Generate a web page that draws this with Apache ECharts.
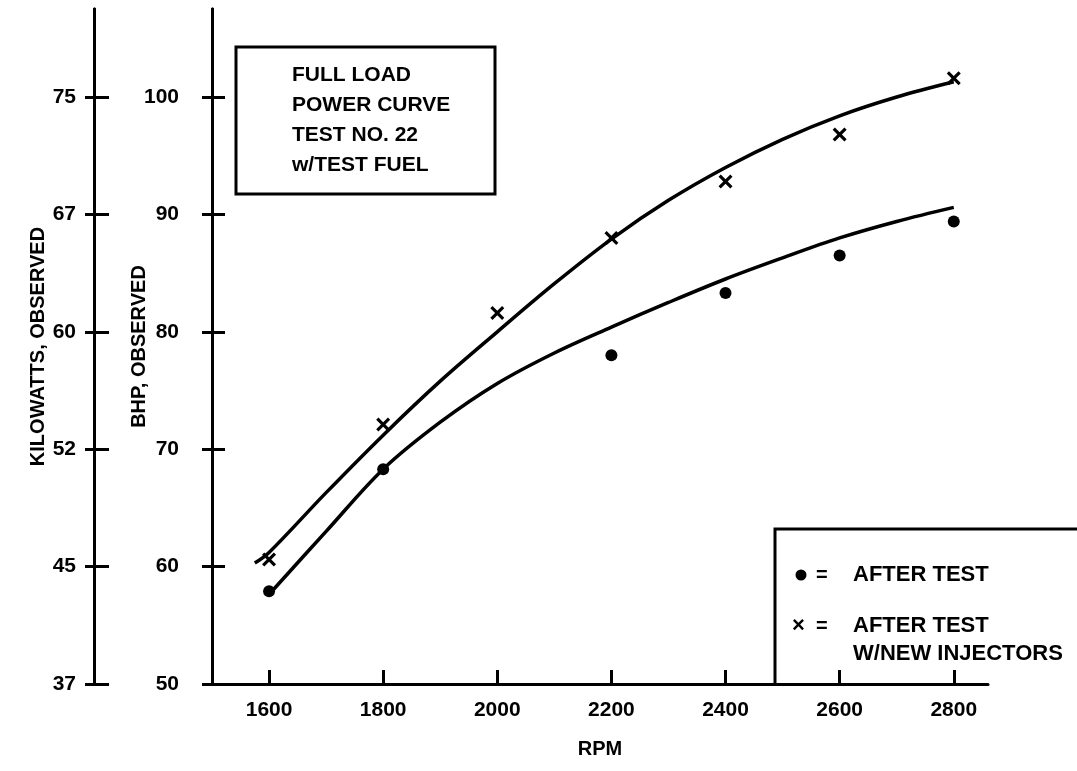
<!DOCTYPE html>
<html>
<head>
<meta charset="utf-8">
<script src="https://cdn.jsdelivr.net/npm/echarts@6/dist/echarts.min.js"></script>
<style>
  html, body { margin: 0; padding: 0; background: #fff; }
  #chart { width: 1077px; height: 771px; }
</style>
</head>
<body>
<div id="chart"></div>
<script>
// ---- data ----
const rpmTicks = [1600, 1800, 2000, 2200, 2400, 2600, 2800];
const bhpTicks = [50, 60, 70, 80, 90, 100];
const kwTicks = ['37', '45', '52', '60', '67', '75'];

// observed points
const dotRpm = [1600, 1800, 2200, 2400, 2600, 2800];
const dotBhp = [57.9, 68.3, 78.0, 83.3, 86.5, 89.4];            // AFTER TEST
const crossRpm = [1600, 1800, 2000, 2200, 2400, 2600, 2800];
const crossBhp = [60.6, 72.1, 81.6, 88.0, 92.8, 96.8, 101.6];   // AFTER TEST W/NEW INJECTORS

// hand-drawn fitted curves
const upperRpm = [1575, 1600, 1700, 1800, 1900, 2000, 2100, 2200, 2300, 2400, 2500, 2600, 2700, 2800];
const upperBhp = [60.3, 61.2, 66.3, 71.2, 75.8, 80.0, 84.1, 87.9, 91.2, 94.0, 96.4, 98.4, 100.0, 101.3];
const lowerRpm = [1605, 1700, 1800, 1900, 2000, 2100, 2200, 2300, 2400, 2500, 2600, 2700, 2800];
const lowerBhp = [57.9, 63.0, 68.3, 72.3, 75.6, 78.2, 80.4, 82.5, 84.5, 86.3, 88.0, 89.4, 90.6];

const titleLines = ['FULL LOAD', 'POWER CURVE', 'TEST NO. 22', 'w/TEST FUEL'];
const legendDot = 'AFTER TEST';
const legendCross = ['AFTER TEST', 'W/NEW INJECTORS'];

// ---- chart ----
const FONT = 'Liberation Sans, Arial, sans-serif';
const zip = (a, b) => a.map((v, i) => [v, b[i]]);
const crossPath = 'path://M0,1.6 L1.6,0 L5,3.4 L8.4,0 L10,1.6 L6.6,5 L10,8.4 L8.4,10 L5,6.6 L1.6,10 L0,8.4 L3.4,5 Z';

const lineBlack = { color: '#000', width: 3 };
const labelStyle = { color: '#000', fontFamily: FONT, fontWeight: 'bold', fontSize: 21 };
const nameStyle = { color: '#000', fontFamily: FONT, fontWeight: 'bold', fontSize: 20 };

const chart = echarts.init(document.getElementById('chart'), null, { renderer: 'canvas' });

chart.setOption({
  animation: false,
  backgroundColor: '#fff',
  grid: { left: 212, right: 89, top: 9, bottom: 87, containLabel: false, outerBoundsMode: 'none' },
  xAxis: {
    type: 'value',
    min: 1500,
    max: 2860,
    name: 'RPM',
    nameLocation: 'middle',
    nameGap: 55,
    nameMoveOverlap: false,
    nameTextStyle: nameStyle,
    axisLine: { show: true, lineStyle: lineBlack },
    axisTick: { show: true, inside: true, length: 14, customValues: rpmTicks, lineStyle: lineBlack },
    axisLabel: Object.assign({ customValues: rpmTicks, margin: 16, formatter: (v) => String(v) }, labelStyle),
    splitLine: { show: false }
  },
  yAxis: [
    {
      type: 'value', position: 'left', min: 50, max: 107.5,
      name: 'BHP, OBSERVED',
      nameLocation: 'middle', nameRotate: 90, nameGap: 63, nameMoveOverlap: false,
      nameTextStyle: nameStyle,
      axisLine: { show: true, lineStyle: lineBlack },
      axisTick: { show: true, inside: false, length: 10, customValues: bhpTicks, lineStyle: lineBlack },
      axisLabel: Object.assign({ customValues: bhpTicks, margin: 33, formatter: (v) => String(v) }, labelStyle),
      splitLine: { show: false }
    },
    {
      type: 'value', position: 'left', min: 50, max: 107.5,
      axisLine: { show: true, lineStyle: lineBlack },
      axisTick: { show: true, inside: true, length: 13, customValues: bhpTicks, lineStyle: lineBlack },
      axisLabel: { show: false },
      splitLine: { show: false }
    },
    {
      type: 'value', position: 'left', offset: 118, min: 50, max: 107.5,
      name: 'KILOWATTS, OBSERVED',
      nameLocation: 'middle', nameRotate: 90, nameGap: 46, nameMoveOverlap: false,
      nameTextStyle: nameStyle,
      axisLine: { show: true, lineStyle: lineBlack },
      axisTick: { show: true, inside: false, length: 9, customValues: bhpTicks, lineStyle: lineBlack },
      axisLabel: Object.assign({
        customValues: bhpTicks, margin: 18,
        formatter: function (v) { const i = bhpTicks.indexOf(v); return i >= 0 ? kwTicks[i] : ''; }
      }, labelStyle),
      splitLine: { show: false }
    },
    {
      type: 'value', position: 'left', offset: 118, min: 50, max: 107.5,
      axisLine: { show: true, lineStyle: lineBlack },
      axisTick: { show: true, inside: true, length: 15, customValues: bhpTicks, lineStyle: lineBlack },
      axisLabel: { show: false },
      splitLine: { show: false }
    }
  ],
  series: [
    {
      type: 'line', name: 'upper curve', yAxisIndex: 0,
      data: zip(upperRpm, upperBhp), smooth: 0.35, showSymbol: false, symbol: 'none',
      lineStyle: { color: '#000', width: 3.5 }, z: 2
    },
    {
      type: 'line', name: 'lower curve', yAxisIndex: 0,
      data: zip(lowerRpm, lowerBhp), smooth: 0.35, showSymbol: false, symbol: 'none',
      lineStyle: { color: '#000', width: 3.5 }, z: 2
    },
    {
      type: 'scatter', name: 'AFTER TEST', yAxisIndex: 0,
      data: zip(dotRpm, dotBhp), symbol: 'circle', symbolSize: 12,
      itemStyle: { color: '#000', opacity: 1 }, z: 3
    },
    {
      type: 'scatter', name: 'AFTER TEST W/NEW INJECTORS', yAxisIndex: 0,
      data: zip(crossRpm, crossBhp), symbol: crossPath, symbolSize: 14,
      itemStyle: { color: '#000', opacity: 1 }, z: 3
    }
  ],
  graphic: [
    // title box
    { type: 'rect', shape: { x: 236, y: 47, width: 259, height: 147 },
      style: { fill: '#fff', stroke: '#000', lineWidth: 3 }, z: 10 },
    { type: 'text', x: 292, y: 60, z: 11,
      style: { text: titleLines.join('\n'), fill: '#000', font: 'bold 21px ' + FONT, lineHeight: 30 } },
    // legend box (open frame)
    { type: 'polyline', shape: { points: [[775, 684], [775, 529], [1077, 529]] },
      style: { stroke: '#000', lineWidth: 3, fill: null }, z: 10 },
    { type: 'circle', shape: { cx: 801, cy: 575, r: 5.5 }, style: { fill: '#000' }, z: 11 },
    { type: 'text', x: 816, y: 575, z: 11,
      style: { text: '=', fill: '#000', font: 'bold 20px ' + FONT, verticalAlign: 'middle' } },
    { type: 'text', x: 853, y: 575, z: 11,
      style: { text: legendDot, fill: '#000', font: 'bold 22px ' + FONT, verticalAlign: 'middle' } },
    { type: 'text', x: 792, y: 626, z: 11,
      style: { text: '\u00d7', fill: '#000', font: 'bold 22px ' + FONT, verticalAlign: 'middle' } },
    { type: 'text', x: 816, y: 626, z: 11,
      style: { text: '=', fill: '#000', font: 'bold 20px ' + FONT, verticalAlign: 'middle' } },
    { type: 'text', x: 853, y: 612, z: 11,
      style: { text: legendCross.join('\n'), fill: '#000', font: 'bold 22px ' + FONT, lineHeight: 28 } }
  ]
});
</script>
</body>
</html>
